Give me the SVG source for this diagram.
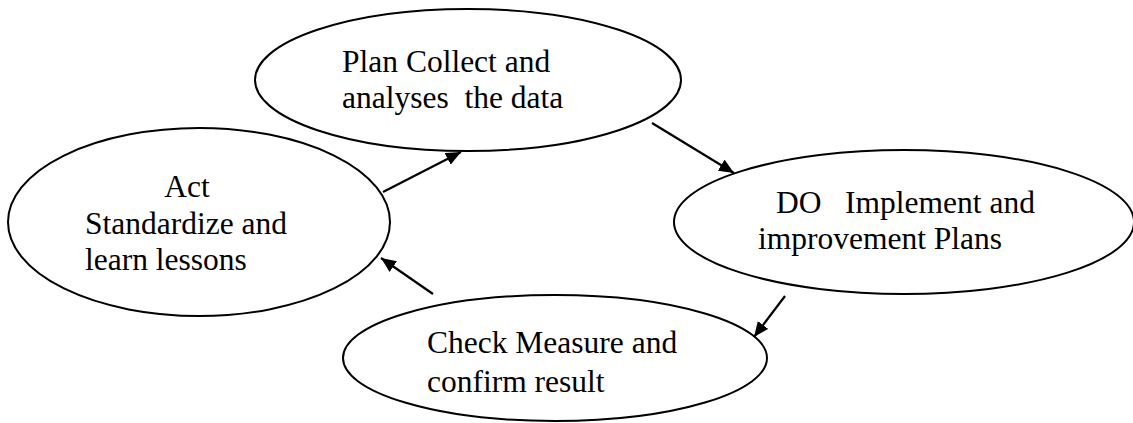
<svg xmlns="http://www.w3.org/2000/svg" width="1133" height="423" viewBox="0 0 1133 423">
<style>
.node ellipse{fill:#fff;stroke:#000;stroke-width:2}
.node text{font-family:"Liberation Serif","Times New Roman",serif;font-size:31.5px;fill:#000;white-space:pre}
.conn line{stroke:#000;stroke-width:2.2}
</style>
<defs>
<marker id="ah" markerUnits="userSpaceOnUse" markerWidth="16" markerHeight="14" refX="15" refY="6.5" orient="auto">
<path d="M0,0 L15,6.5 L0,13 Z" fill="#000"/>
</marker>
</defs>
<rect width="1133" height="423" fill="#fff"/>
<g id="plan" class="node">
<ellipse cx="468" cy="80" rx="213" ry="71"/>
<text x="342" y="72">Plan Collect and</text>
<text x="342" y="108">analyses  the data</text>
</g>
<g id="act" class="node">
<ellipse cx="199" cy="222" rx="191" ry="94"/>
<text x="187" y="197" text-anchor="middle">Act</text>
<text x="85" y="234">Standardize and</text>
<text x="85" y="270">learn lessons</text>
</g>
<g id="do" class="node">
<ellipse cx="904" cy="222" rx="230" ry="72"/>
<text x="776" y="213">DO   Implement and</text>
<text x="758" y="249">improvement Plans</text>
</g>
<g id="check" class="node">
<ellipse cx="555" cy="358" rx="212" ry="63"/>
<text x="427" y="353">Check Measure and</text>
<text x="427" y="392">confirm result</text>
</g>
<g id="connectors" class="conn">
<line x1="383" y1="192" x2="461" y2="152" marker-end="url(#ah)"/>
<line x1="652" y1="123" x2="734" y2="173" marker-end="url(#ah)"/>
<line x1="785" y1="296" x2="754" y2="337" marker-end="url(#ah)"/>
<line x1="433" y1="294" x2="381" y2="258" marker-end="url(#ah)"/>
</g>
</svg>
